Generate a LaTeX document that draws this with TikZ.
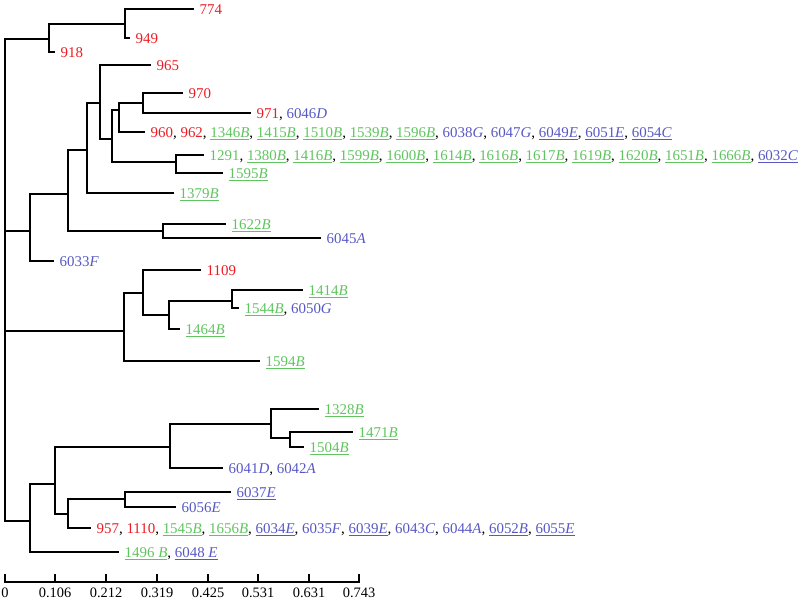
\documentclass[tikz,border=0pt]{standalone}
\usepackage{fontspec}
\setmainfont{Liberation Serif}
\definecolor{tred}{RGB}{236,28,36}
\definecolor{tgrn}{RGB}{96,196,96}
\definecolor{tblu}{RGB}{88,88,196}
\newcommand\cR[1]{\textcolor{tred}{#1}}
\newcommand\cG[1]{\textcolor{tgrn}{#1}}
\newcommand\cGu[1]{\textcolor{tgrn}{\underline{#1}}}
\newcommand\cB[1]{\textcolor{tblu}{#1}}
\newcommand\cBu[1]{\textcolor{tblu}{\underline{#1}}}
\newcommand\gB[1]{\cGu{#1\textit{B}}}
\newcommand\bU[2]{\cBu{#1\textit{#2}}}
\newcommand\bN[2]{\cB{#1\textit{#2}}}
\begin{document}
\begin{tikzpicture}[x=0.75pt,y=-0.75pt,
  br/.style={line width=1.3pt,line cap=rect},
  lab/.style={anchor=west,inner xsep=4.8pt,inner ysep=0pt,text height=7.6pt,text depth=0pt,font=\fontsize{11.2}{13}\selectfont},
  axlab/.style={anchor=base,inner sep=0pt,font=\fontsize{10.8}{13}\selectfont}]
\useasboundingbox (0,0) rectangle (800,601);
% internal nodes
\coordinate (R) at (5,39);
\coordinate (A) at (49,39);
\coordinate (A1) at (125,24);
\coordinate (B) at (30,231);
\coordinate (B1) at (68,194);
\coordinate (B2) at (87,150);
\coordinate (B3) at (163,231);
\coordinate (B4) at (100,103);
\coordinate (B5) at (112,139);
\coordinate (B6) at (119,110);
\coordinate (B7) at (176,162);
\coordinate (B8) at (143,103);
\coordinate (C) at (124,331);
\coordinate (C1) at (143,293);
\coordinate (C2) at (169,315);
\coordinate (C3) at (232,301);
\coordinate (D) at (30,521);
\coordinate (D1) at (55,484);
\coordinate (D2) at (170,447);
\coordinate (D3) at (68,514);
\coordinate (D4) at (271,424);
\coordinate (D5) at (290,438);
\coordinate (D6) at (125,499);
% leaves
\node[lab] (l774) at (193,9) {\cR{774}};
\node[lab] (l949) at (129,38) {\cR{949}};
\node[lab] (l918) at (54,52) {\cR{918}};
\node[lab] (l965) at (150,65) {\cR{965}};
\node[lab] (l970) at (182,93) {\cR{970}};
\node[lab] (l971) at (250,113) {\cR{971}, \bN{6046}{D}};
\node[lab] (l960) at (144,132) {\cR{960}, \cR{962}, \gB{1346}, \gB{1415}, \gB{1510}, \gB{1539}, \gB{1596}, \bN{6038}{G}, \bN{6047}{G}, \bU{6049}{E}, \bU{6051}{E}, \bU{6054}{C}};
\node[lab] (l1291) at (203,155) {\cG{1291}, \gB{1380}, \gB{1416}, \gB{1599}, \gB{1600}, \gB{1614}, \gB{1616}, \gB{1617}, \gB{1619}, \gB{1620}, \gB{1651}, \gB{1666}, \bU{6032}{C}};
\node[lab] (l1595) at (222,173) {\gB{1595}};
\node[lab] (l1379) at (173,193) {\gB{1379}};
\node[lab] (l1622) at (225,224) {\gB{1622}};
\node[lab] (l6045) at (320,238) {\bN{6045}{A}};
\node[lab] (l6033) at (53,261) {\bN{6033}{F}};
\node[lab] (l1109) at (200,270) {\cR{1109}};
\node[lab] (l1414) at (302,290) {\gB{1414}};
\node[lab] (l1544) at (238,308) {\gB{1544}, \bN{6050}{G}};
\node[lab] (l1464) at (179,329) {\gB{1464}};
\node[lab] (l1594) at (259,361) {\gB{1594}};
\node[lab] (l1328) at (318,409) {\gB{1328}};
\node[lab] (l1471) at (352,432) {\gB{1471}};
\node[lab] (l1504) at (303,447) {\gB{1504}};
\node[lab] (l6041) at (222,468) {\bN{6041}{D}, \bN{6042}{A}};
\node[lab] (l6037) at (230,492) {\bU{6037}{E}};
\node[lab] (l6056) at (175,507) {\bN{6056}{E}};
\node[lab] (l957) at (90,528) {\cR{957}, \cR{1110}, \gB{1545}, \gB{1656}, \bU{6034}{E}, \bN{6035}{F}, \bU{6039}{E}, \bN{6043}{C}, \bN{6044}{A}, \bU{6052}{B}, \bU{6055}{E}};
\node[lab] (l1496) at (118,552) {\cGu{1496 \textit{B}}, \cBu{6048 \textit{E}}};
% branches
\draw[br] (R) |- (A); \draw[br] (R) |- (B); \draw[br] (R) |- (C); \draw[br] (R) |- (D);
\draw[br] (A) |- (A1); \draw[br] (A) |- (l918.west);
\draw[br] (A1) |- (l774.west); \draw[br] (A1) |- (l949.west);
\draw[br] (B) |- (B1); \draw[br] (B) |- (l6033.west);
\draw[br] (B1) |- (B2); \draw[br] (B1) |- (B3);
\draw[br] (B3) |- (l1622.west); \draw[br] (B3) |- (l6045.west);
\draw[br] (B2) |- (B4); \draw[br] (B2) |- (l1379.west);
\draw[br] (B4) |- (l965.west); \draw[br] (B4) |- (B5);
\draw[br] (B5) |- (B6); \draw[br] (B5) |- (B7);
\draw[br] (B6) |- (B8); \draw[br] (B6) |- (l960.west);
\draw[br] (B8) |- (l970.west); \draw[br] (B8) |- (l971.west);
\draw[br] (B7) |- (l1291.west); \draw[br] (B7) |- (l1595.west);
\draw[br] (C) |- (C1); \draw[br] (C) |- (l1594.west);
\draw[br] (C1) |- (l1109.west); \draw[br] (C1) |- (C2);
\draw[br] (C2) |- (C3); \draw[br] (C2) |- (l1464.west);
\draw[br] (C3) |- (l1414.west); \draw[br] (C3) |- (l1544.west);
\draw[br] (D) |- (D1); \draw[br] (D) |- (l1496.west);
\draw[br] (D1) |- (D2); \draw[br] (D1) |- (D3);
\draw[br] (D2) |- (D4); \draw[br] (D2) |- (l6041.west);
\draw[br] (D4) |- (l1328.west); \draw[br] (D4) |- (D5);
\draw[br] (D5) |- (l1471.west); \draw[br] (D5) |- (l1504.west);
\draw[br] (D3) |- (D6); \draw[br] (D3) |- (l957.west);
\draw[br] (D6) |- (l6037.west); \draw[br] (D6) |- (l6056.west);
% scale axis
\coordinate (ax0) at (5,582);
\coordinate (ax1) at (359,582);
\draw[br] (ax0) -- (ax1);
\foreach \xx/\vv [count=\i] in {5/0,55/0.106,106/0.212,157/0.319,208/0.425,258/0.531,309/0.631,359/0.743}{
  \coordinate (tk\i) at (\xx,582);
  \draw[br] (tk\i) -- ++(0,-7);
  \node[axlab] (tl\i) at (\xx,597.5) {\vv};
}
\end{tikzpicture}
\end{document}
